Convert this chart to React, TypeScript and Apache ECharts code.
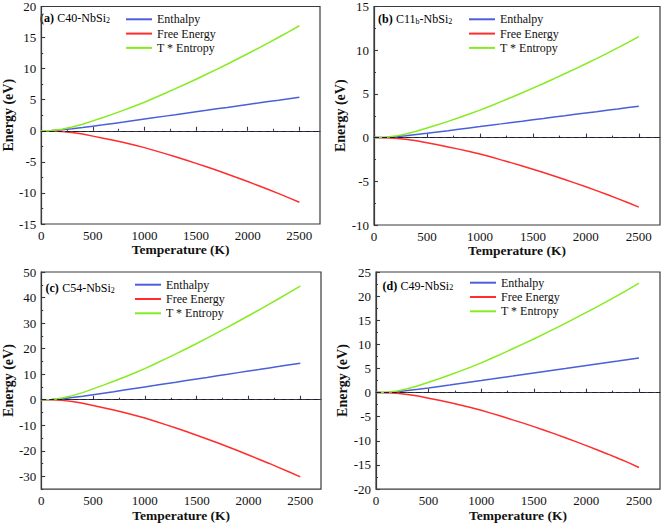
import React, { useEffect, useRef } from "react";
import * as echarts from "echarts";

const temps = [0, 100, 200, 300, 400, 500, 600, 700, 800, 900, 1000, 1100, 1200, 1300, 1400, 1500, 1600, 1700, 1800, 1900, 2000, 2100, 2200, 2300, 2400, 2500];

// (a) C40
const hA = [0, 0.03, 0.15, 0.32, 0.52, 0.74, 0.96, 1.19, 1.42, 1.66, 1.89, 2.12, 2.36, 2.59, 2.83, 3.06, 3.29, 3.53, 3.76, 4.0, 4.23, 4.46, 4.7, 4.93, 5.17, 5.4];
const fA = [0, -0.01, -0.1, -0.28, -0.53, -0.86, -1.19, -1.53, -1.9, -2.29, -2.71, -3.19, -3.68, -4.19, -4.7, -5.24, -5.8, -6.36, -6.95, -7.55, -8.17, -8.81, -9.45, -10.12, -10.8, -11.5];
const tsA = [0, 0.04, 0.25, 0.6, 1.05, 1.6, 2.15, 2.72, 3.32, 3.95, 4.6, 5.31, 6.04, 6.78, 7.53, 8.3, 9.09, 9.89, 10.71, 11.55, 12.4, 13.27, 14.15, 15.05, 15.97, 16.9];

// (b) C11b
const hB = [0, 0.02, 0.1, 0.21, 0.35, 0.49, 0.64, 0.79, 0.95, 1.11, 1.26, 1.42, 1.57, 1.73, 1.88, 2.04, 2.19, 2.35, 2.5, 2.66, 2.82, 2.97, 3.13, 3.28, 3.44, 3.6];
const fB = [0, -0.01, -0.07, -0.2, -0.37, -0.6, -0.83, -1.07, -1.32, -1.59, -1.88, -2.2, -2.55, -2.89, -3.25, -3.62, -4.0, -4.39, -4.8, -5.21, -5.63, -6.07, -6.51, -6.98, -7.45, -7.95];
const tsB = [0, 0.03, 0.17, 0.41, 0.72, 1.09, 1.47, 1.86, 2.27, 2.7, 3.14, 3.62, 4.12, 4.62, 5.13, 5.66, 6.19, 6.74, 7.3, 7.87, 8.45, 9.04, 9.64, 10.26, 10.89, 11.55];

// (c) C54
const hC = [0, 0.08, 0.4, 0.85, 1.38, 1.96, 2.55, 3.15, 3.77, 4.4, 5.01, 5.62, 6.25, 6.86, 7.5, 8.11, 8.72, 9.35, 9.96, 10.6, 11.21, 11.82, 12.45, 13.06, 13.7, 14.3];
const fC = [0, -0.03, -0.26, -0.74, -1.4, -2.28, -3.15, -4.06, -5.03, -6.07, -7.18, -8.45, -9.76, -11.11, -12.45, -13.89, -15.37, -16.88, -18.44, -20.01, -21.65, -23.29, -24.95, -26.67, -28.4, -30.2];
const tsC = [0, 0.11, 0.66, 1.59, 2.78, 4.24, 5.7, 7.21, 8.8, 10.47, 12.19, 14.07, 16.01, 17.97, 19.95, 22.0, 24.09, 26.23, 28.4, 30.61, 32.86, 35.11, 37.4, 39.73, 42.1, 44.5];

// (d) C49
const hD = [0, 0.04, 0.2, 0.43, 0.69, 0.98, 1.28, 1.58, 1.89, 2.21, 2.51, 2.82, 3.14, 3.44, 3.76, 4.07, 4.38, 4.69, 5.0, 5.32, 5.63, 5.94, 6.25, 6.56, 6.88, 7.18];
const fD = [0, -0.01, -0.14, -0.37, -0.72, -1.16, -1.6, -2.06, -2.56, -3.08, -3.65, -4.3, -4.95, -5.65, -6.33, -7.05, -7.8, -8.56, -9.35, -10.16, -10.99, -11.84, -12.71, -13.61, -14.52, -15.52];
const tsD = [0, 0.05, 0.34, 0.8, 1.41, 2.14, 2.88, 3.64, 4.45, 5.29, 6.16, 7.12, 8.09, 9.09, 10.09, 11.12, 12.18, 13.25, 14.35, 15.48, 16.62, 17.78, 18.96, 20.17, 21.4, 22.7];

const seriesNames = ["Enthalpy", "Free Energy", "T * Entropy"];

const xMajorTicks = [0, 500, 1000, 1500, 2000, 2500];
const xMinorTicks = [250, 750, 1250, 1750, 2250];

const yMajorA = [-15, -10, -5, 0, 5, 10, 15, 20];
const yMinorA = [-12.5, -7.5, -2.5, 2.5, 7.5, 12.5, 17.5];
const yMajorB = [-10, -5, 0, 5, 10, 15];
const yMinorB = [-7.5, -2.5, 2.5, 7.5, 12.5];
const yMajorC = [-30, -20, -10, 0, 10, 20, 30, 40, 50];
const yMinorC = [-35, -25, -15, -5, 5, 15, 25, 35, 45];
const yMajorD = [-20, -15, -10, -5, 0, 5, 10, 15, 20, 25];
const yMinorD = [-17.5, -12.5, -7.5, -2.5, 2.5, 7.5, 12.5, 17.5, 22.5];

const FONT = "Liberation Serif";
const AXIS_COLOR = "#3a3a3a";
const TEXT = "#111";
const COLORS = ["#4a5fd9", "#ff2d2d", "#86ec1f"];

const panels = [
  { h: hA, f: fA, ts: tsA, yMin: -15, yMax: 20, yMajor: yMajorA, yMinor: yMinorA,
    grid: { left: 36, top: 6, width: 284, height: 218 },
    legend: { left: 126, top: 12.3 },
    label: { x: 40, y: 17, text: "{b|(a)} {n|C40-NbSi}{s|2}" } },
  { h: hB, f: fB, ts: tsB, yMin: -10, yMax: 15, yMajor: yMajorB, yMinor: yMinorB,
    grid: { left: 374, top: 5, width: 286, height: 220 },
    legend: { left: 469, top: 12.3 },
    label: { x: 378, y: 18, text: "{b|(b)} {n|C11}{s|b}{n|-NbSi}{s|2}" } },
  { h: hC, f: fC, ts: tsC, yMin: -35, yMax: 50, yMajor: yMajorC, yMinor: yMinorC,
    grid: { left: 37, top: 272, width: 284, height: 219 },
    legend: { left: 135, top: 277.7 },
    label: { x: 45.5, y: 287, text: "{b|(c)} {n|C54-NbSi}{s|2}" } },
  { h: hD, f: fD, ts: tsD, yMin: -20, yMax: 25, yMajor: yMajorD, yMinor: yMinorD,
    grid: { left: 376, top: 272, width: 284, height: 219 },
    legend: { left: 470, top: 275.7 },
    label: { x: 382.5, y: 284.7, text: "{b|(d)} {n|C49-NbSi}{s|2}" } },
];

const zip = (ys: number[]) => temps.map((t, i) => [t, ys[i]]);
const tickFmt = (v: number) => `{t|${v}}`;
const tickRich = { t: { fontFamily: FONT, fontSize: 13, color: TEXT } };

export default function App() {
  const ref = useRef<HTMLDivElement>(null);
  useEffect(() => {
    if (!ref.current) return;
    const chart = echarts.init(ref.current, undefined, { renderer: "svg" });

    const grid: any[] = [];
    const xAxis: any[] = [];
    const yAxis: any[] = [];
    const series: any[] = [];
    const legend: any[] = [];
    const graphic: any[] = [];

    const tickStyle = { color: AXIS_COLOR, width: 1.1 };

    panels.forEach((p) => {
      grid.push({ ...p.grid, show: true, borderColor: AXIS_COLOR, borderWidth: 1.2, backgroundColor: "transparent", containLabel: false });
    });
    panels.forEach((p, i) => {
      xAxis.push({
        type: "value", gridIndex: i, position: "bottom", min: 0, max: 2700,
        axisLine: { show: true, lineStyle: { color: AXIS_COLOR, width: 1.2 } },
        axisTick: { show: true, inside: true, length: 4, customValues: xMajorTicks, lineStyle: tickStyle },
        axisLabel: { customValues: xMajorTicks, formatter: tickFmt, rich: tickRich, margin: 5, fontFamily: FONT, fontSize: 13, color: TEXT },
        splitLine: { show: false },
        name: "{t|Temperature (K)}", nameLocation: "middle", nameGap: 18,
        nameTextStyle: { fontFamily: FONT, fontSize: 13.5, fontWeight: "bold", color: TEXT,
          rich: { t: { fontFamily: FONT, fontSize: 13.5, fontWeight: "bold", color: TEXT } } },
      });
      yAxis.push({
        type: "value", gridIndex: i, position: "left", min: p.yMin, max: p.yMax,
        axisLine: { show: true, lineStyle: { color: AXIS_COLOR, width: 1.2 } },
        axisTick: { show: true, inside: true, length: 4, customValues: p.yMajor, lineStyle: tickStyle },
        axisLabel: { customValues: p.yMajor, formatter: tickFmt, rich: tickRich, margin: 5, fontFamily: FONT, fontSize: 13, color: TEXT },
        splitLine: { show: false },
        name: "{t|Energy (eV)}", nameLocation: "middle", nameGap: 20,
        nameTextStyle: { fontFamily: FONT, fontSize: 14, fontWeight: "bold", color: TEXT,
          rich: { t: { fontFamily: FONT, fontSize: 14, fontWeight: "bold", color: TEXT } } },
      });
    });
    panels.forEach((p, i) => {
      xAxis.push({
        type: "value", gridIndex: i, position: "bottom", min: 0, max: 2700,
        axisLine: { show: false },
        axisTick: { show: true, inside: true, length: 2, customValues: xMinorTicks, lineStyle: tickStyle },
        axisLabel: { show: false },
        splitLine: { show: false },
      });
      yAxis.push({
        type: "value", gridIndex: i, position: "left", min: p.yMin, max: p.yMax,
        axisLine: { show: false },
        axisTick: { show: true, inside: true, length: 2, customValues: p.yMinor, lineStyle: tickStyle },
        axisLabel: { show: false },
        splitLine: { show: false },
      });
    });

    panels.forEach((p, i) => {
      const datas = [p.h, p.f, p.ts];
      datas.forEach((d, k) => {
        const s: any = {
          type: "line", name: seriesNames[k], xAxisIndex: i, yAxisIndex: i,
          data: zip(d), showSymbol: false, symbol: "none",
          lineStyle: { color: COLORS[k], width: 1.5 },
          itemStyle: { color: COLORS[k] },
          z: 3,
        };
        if (k === 0) {
          s.markLine = {
            silent: true, symbol: ["none", "none"], label: { show: false },
            lineStyle: { type: [5, 3], color: "#1c1c3a", width: 1.2 },
            data: [{ yAxis: 0 }],
          };
        }
        series.push(s);
      });
      legend.push({
        left: p.legend.left, top: p.legend.top, orient: "vertical", padding: 0,
        itemWidth: 26, itemHeight: 2, itemGap: 0.3, icon: "rect",
        selectedMode: false, data: seriesNames,
        formatter: (name: string) => `{t|${name}}`,
        textStyle: { fontFamily: FONT, fontSize: 12, lineHeight: 14, color: TEXT,
          rich: { t: { fontFamily: FONT, fontSize: 12, lineHeight: 14, color: TEXT } } },
      });
      graphic.push({
        type: "text", x: p.label.x, y: p.label.y,
        style: {
          text: p.label.text, verticalAlign: "middle", align: "left",
          rich: {
            b: { fontFamily: FONT, fontSize: 12, fontWeight: "bold", color: TEXT, lineHeight: 14, verticalAlign: "bottom" },
            n: { fontFamily: FONT, fontSize: 12, color: TEXT, lineHeight: 14, verticalAlign: "bottom" },
            s: { fontFamily: FONT, fontSize: 8, color: TEXT, lineHeight: 6, verticalAlign: "bottom" },
          },
        },
      });
    });

    chart.setOption({
      animation: false,
      backgroundColor: "#fff",
      textStyle: { fontFamily: FONT },
      grid, xAxis, yAxis, series, legend, graphic,
    });
    return () => chart.dispose();
  }, []);
  return <div ref={ref} style={{ position: "fixed", left: 0, top: 0, width: 662, height: 523 }} />;
}
